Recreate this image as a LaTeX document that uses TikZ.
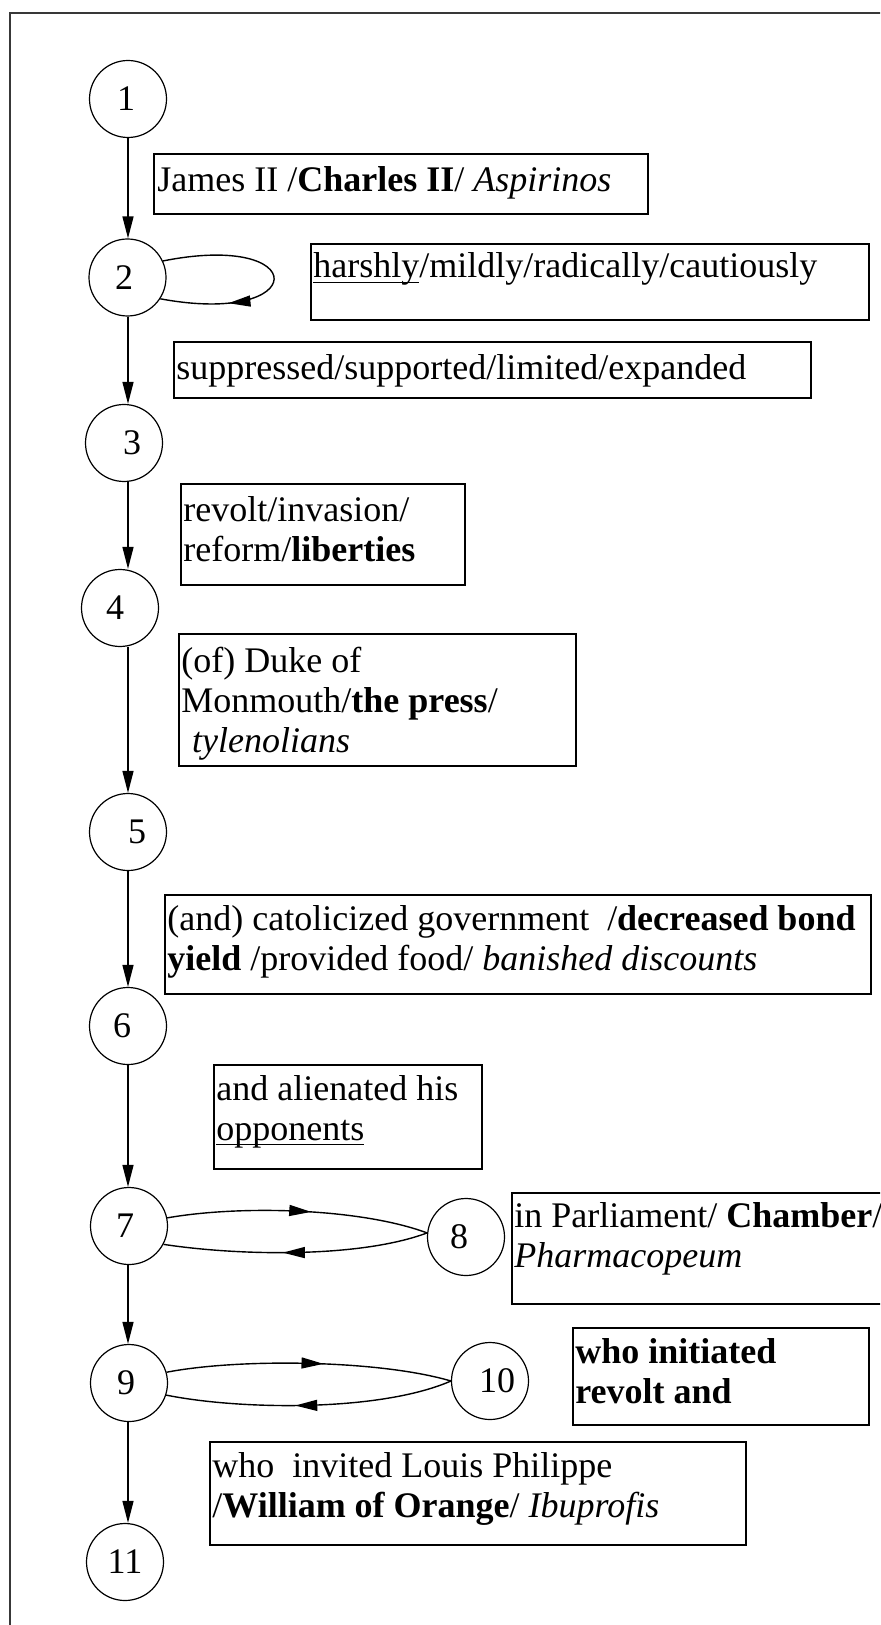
\documentclass[tikz,border=0pt]{standalone}
\usepackage{fontspec}
\setmainfont{Liberation Serif}
\usetikzlibrary{arrows.meta,decorations.markings}

% underline that cuts through descenders, as in the word-processor original
\newcommand\uword[1]{\leavevmode\setbox0\hbox{#1}\rlap{\rule[-2.4pt]{\wd0}{0.6pt}}#1}
% top-aligned text block: the node's base is the first line's baseline
\newcommand\boxtext[1]{\parbox[t]{420pt}{\raggedright\fontsize{18}{20}\selectfont #1}}

\tikzset{
  state/.style={circle, draw, line width=0.6pt, minimum size=38.5pt, inner sep=0pt},
  frameline/.style={draw=black!78, line width=1.4pt},
  panel/.style={draw, line width=0.85pt, inner sep=0pt, anchor=north west},
  txt/.style={inner sep=0pt, anchor=base west},
  arr/.style={line width=0.7pt, -{Triangle[length=11pt,width=5.5pt]}},
  curve/.style={line width=0.7pt},
  midarr/.style={postaction={decorate}, decoration={markings,
      mark=at position #1 with {\arrow{Triangle[length=11pt,width=5.5pt]}}}},
}

\begin{document}
\begin{tikzpicture}[x=0.5pt, y=-0.5pt, font=\fontsize{18}{20}\selectfont]
\useasboundingbox (0,0) rectangle (880,1625);
\clip (0,0) rectangle (880,1625);
\fill[white] (0,0) rectangle (880,1625);

% outer frame
\draw[frameline] (10,1630) -- (10,13) -- (885,13);

% states
\node[state, label={[xshift=-1pt]center:1}]    (n1)  at (128,99)     {};
\node[state, label={[xshift=-1.75pt]center:2}] (n2)  at (127.5,277.5) {};
\node[state, label={[xshift=4pt]center:3}]     (n3)  at (124,443)    {};
\node[state, label={[xshift=-2.5pt]center:4}]  (n4)  at (120,608)    {};
\node[state, label={[xshift=4.5pt]center:5}]   (n5)  at (128,832)    {};
\node[state, label={[xshift=-3pt]center:6}]    (n6)  at (128,1026)   {};
\node[state, label={[xshift=-2pt]center:7}]    (n7)  at (129,1226)   {};
\node[state, label={[xshift=-3.5pt]center:8}]  (n8)  at (466,1237)   {};
\node[state, label={[xshift=-1.5pt]center:9}]  (n9)  at (129,1383)   {};
\node[state, label={[xshift=3.5pt]center:10}]  (n10) at (490,1381)   {};
\node[state, label={center:11}]                (n11) at (125,1562)   {};

% main chain, kept on one vertical line
\coordinate (spine) at (128,0);
\draw[arr] (n1.south -| spine) -- (n2.north -| spine);
\draw[arr] (n2.south -| spine) -- (n3.north -| spine);
\draw[arr] (n3.south -| spine) -- (n4.north -| spine);
\draw[arr] (n4.south -| spine) -- (n5.north -| spine);
\draw[arr] (n5.south -| spine) -- (n6.north -| spine);
\draw[arr] (n6.south -| spine) -- (n7.north -| spine);
\draw[arr] (n7.south -| spine) -- (n9.north -| spine);
\draw[arr] (n9.south -| spine) -- (n11.north -| spine);

% self loop on 2
\draw[curve, midarr=0.72] (n2.25) .. controls +(150,-30) and +(150,28) .. (n2.-33);

% 7 <-> 8
\draw[curve, midarr=0.55] (n7.12) .. controls (240,1205) and (360,1208) .. (n8.174);
\draw[curve, midarr=0.55] (n8.174) .. controls (360,1258) and (240,1256) .. (n7.-28);

% 9 <-> 10
\draw[curve, midarr=0.55] (n9.16) .. controls (240,1358) and (380,1360) .. (n10.180);
\draw[curve, midarr=0.55] (n10.180) .. controls (380,1412) and (240,1410) .. (n9.-18);

% annotation boxes
\node[panel, minimum width=247pt,   minimum height=30pt]   (bA) at (153,153)  {};
\node[panel, minimum width=279pt,   minimum height=38pt]   (bB) at (310,243)  {};
\node[panel, minimum width=318.5pt, minimum height=28pt]   (bC) at (173,341)  {};
\node[panel, minimum width=142pt,   minimum height=50.5pt] (bD) at (180,483)  {};
\node[panel, minimum width=198.5pt, minimum height=66pt]   (bE) at (178,633)  {};
\node[panel, minimum width=353pt,   minimum height=49.5pt] (bF) at (164,894)  {};
\node[panel, minimum width=134pt,   minimum height=52pt]   (bG) at (213,1064) {};
\node[panel, minimum width=194.5pt, minimum height=55.5pt] (bH) at (511,1192) {};
\node[panel, minimum width=148pt,   minimum height=48.5pt] (bI) at (572,1327) {};
\node[panel, minimum width=268pt,   minimum height=51.5pt] (bJ) at (209,1441) {};

% box texts
\node[txt] (tA) at (157,192)  {\boxtext{James II /\textbf{Charles II}/ \textit{Aspirinos}}};
\node[txt] (tB) at (313,278)  {\boxtext{\uword{harshly}/mildly/radically/cautiously}};
\node[txt] (tC) at (176,380)  {\boxtext{suppressed/supported/limited/expanded}};
\node[txt] (tD) at (183,522)  {\boxtext{revolt/invasion/\\reform/\textbf{liberties}}};
\node[txt] (tE) at (181,672)  {\boxtext{(of) Duke of\\Monmouth/\textbf{the press}/\\\hspace*{0.3em}\textit{tylenolians}}};
\node[txt] (tF) at (167,930)  {\boxtext{(and) catolicized government\ \ /\textbf{decreased bond}\\\textbf{yield} /provided food/ \textit{banished discounts}}};
\node[txt] (tG) at (216,1100) {\boxtext{and alienated his\\\uword{opponents}}};
\node[txt] (tH) at (514,1227) {\boxtext{in Parliament/ \textbf{Chamber}/\\\textit{Pharmacopeum}}};
\node[txt] (tI) at (575,1363) {\boxtext{\textbf{who initiated}\\\textbf{revolt and}}};
\node[txt] (tJ) at (212,1477) {\boxtext{who\ \ invited Louis Philippe\\/\textbf{William of Orange}/ \textit{Ibuprofis}}};
\end{tikzpicture}
\end{document}
